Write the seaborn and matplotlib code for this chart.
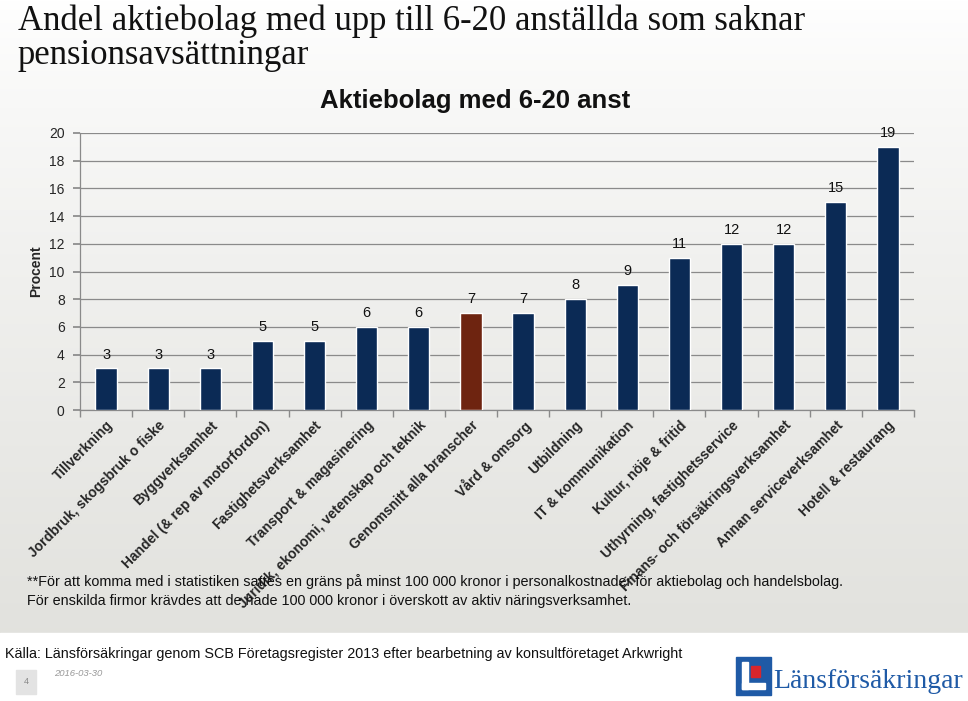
import numpy as np
import pandas as pd
import matplotlib
matplotlib.use("Agg")
import matplotlib.pyplot as plt
import seaborn as sns
from matplotlib.patches import Rectangle

categories = [
    "Tillverkning",
    "Jordbruk, skogsbruk o fiske",
    "Byggverksamhet",
    "Handel (& rep av motorfordon)",
    "Fastighetsverksamhet",
    "Transport & magasinering",
    "Juridik, ekonomi, vetenskap och teknik",
    "Genomsnitt alla branscher",
    "Vård & omsorg",
    "Utbildning",
    "IT & kommunikation",
    "Kultur, nöje & fritid",
    "Uthyrning, fastighetsservice",
    "Finans- och försäkringsverksamhet",
    "Annan serviceverksamhet",
    "Hotell & restaurang",
]
values = [3, 3, 3, 5, 5, 6, 6, 7, 7, 8, 9, 11, 12, 12, 15, 19]
highlight = "Genomsnitt alla branscher"
y_ticks = [0, 2, 4, 6, 8, 10, 12, 14, 16, 18, 20]

NAVY = "#0B2A55"
BROWN = "#6E2410"

sns.set_theme(style="white")
plt.rcParams["font.family"] = ["Liberation Sans", "DejaVu Sans"]

W, H = 968, 701
fig = plt.figure(figsize=(W / 100, H / 100), dpi=100)

# background gradient panel
bg = fig.add_axes([0, 0, 1, 1], zorder=-10)
bg.set_xlim(0, W)
bg.set_ylim(H, 0)
bg.axis("off")
grad = np.linspace(0, 1, 256).reshape(-1, 1)
top = np.array([1.0, 1.0, 1.0])
bot = np.array([0.886, 0.886, 0.870])
img = top + (bot - top) * grad[..., None] ** 0.8
img = np.repeat(img, 4, axis=1)
bg.imshow(img, extent=[0, W, 633, 0], aspect="auto")
bg.add_patch(Rectangle((0, 633), W, H - 633, color="white"))

df = pd.DataFrame({"cat": categories, "val": values})
palette = {c: (BROWN if c == highlight else NAVY) for c in categories}

ax = fig.add_axes([80 / W, 1 - 410 / H, (914 - 80) / W, (410 - 133) / H])
ax.set_facecolor("none")
sns.barplot(data=df, x="cat", y="val", hue="cat", palette=palette,
            legend=False, width=0.41, saturation=1, ax=ax, zorder=3)
ax.set_ylim(0, 20)
ax.set_xlim(-0.5, len(categories) - 0.5)
ax.set_yticks(y_ticks)
ax.set_yticklabels([str(t) for t in y_ticks], fontsize=10)
ax.yaxis.grid(True, color="#8a8a8a", linewidth=0.9, zorder=0)
ax.set_axisbelow(True)
for s in ["top", "right"]:
    ax.spines[s].set_visible(False)
for s in ["left", "bottom"]:
    ax.spines[s].set_color("#8a8a8a")
    ax.spines[s].set_linewidth(0.9)
ax.tick_params(axis="y", left=True, length=5, color="#8a8a8a", pad=6)
ax.set_xticks(range(len(categories)))
ax.set_xticklabels(categories, rotation=45, ha="right", rotation_mode="anchor",
                   fontsize=10, fontweight="bold")
ax.tick_params(axis="x", length=0, pad=6)
ax.set_xticks(np.arange(-0.5, len(categories), 1), minor=True)
ax.tick_params(axis="x", which="minor", bottom=True, length=5, color="#8a8a8a")
ax.set_xlabel("")
ax.set_ylabel("Procent", fontsize=10, fontweight="bold", labelpad=4)

for i, v in enumerate(values):
    ax.text(i, v + 0.5, str(v), ha="center", va="bottom", fontsize=10.5, color="#111111")

# chart title
fig.text(475 / W, 1 - 101 / H, "Aktiebolag med 6-20 anst", fontsize=18.5,
         fontweight="bold", ha="center", va="center", color="#111111")

# main title
fig.text(18 / W, 1 - 4 / H, "Andel aktiebolag med upp till 6-20 anställda som saknar\npensionsavsättningar",
         family=["Liberation Serif", "DejaVu Serif"], fontsize=25, va="top", ha="left",
         linespacing=1.05, color="#111111")

# footnotes
fig.text(27 / W, 1 - 582 / H,
         "**För att komma med i statistiken sattes en gräns på minst 100 000 kronor i personalkostnader för aktiebolag och handelsbolag.",
         fontsize=10.4, va="center", ha="left", color="#111111")
fig.text(27 / W, 1 - 601 / H,
         "För enskilda firmor krävdes att de hade 100 000 kronor i överskott av aktiv näringsverksamhet.",
         fontsize=10.4, va="center", ha="left", color="#111111")
fig.text(5 / W, 1 - 654 / H,
         "Källa: Länsförsäkringar genom SCB Företagsregister 2013 efter bearbetning av konsultföretaget Arkwright",
         fontsize=10.4, va="center", ha="left", color="#111111")
fig.text(54 / W, 1 - 674 / H, "2016-03-30", fontsize=6.8, style="italic",
         va="center", ha="left", color="#999999")

# page number box
bg.add_patch(Rectangle((16, 670), 20, 24, color="#e3e3e3"))
bg.text(26, 682, "4", fontsize=6.5, color="#888888", ha="center", va="center")

# logo
BLUE = "#1f5aa6"
bg.add_patch(Rectangle((736, 657), 35, 38, color=BLUE))
bg.add_patch(Rectangle((742, 662), 6, 27, color="white"))
bg.add_patch(Rectangle((742, 683), 23, 6, color="white"))
bg.add_patch(Rectangle((751, 666), 9, 11, color="#d7262d"))
bg.text(773, 681, "Länsförsäkringar", family=["Liberation Serif", "DejaVu Serif"],
        fontsize=20, color=BLUE, ha="left", va="center")

fig.savefig("out.png", dpi=100)
